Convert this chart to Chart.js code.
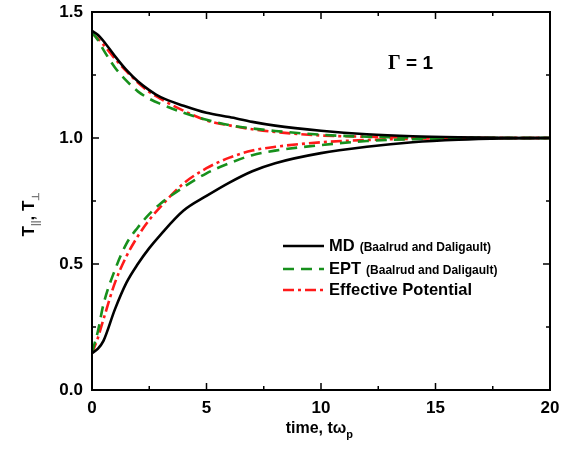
<!DOCTYPE html>
<html>
<head>
<meta charset="utf-8">
<script src="https://cdn.jsdelivr.net/npm/chart.js@4.4.1/dist/chart.umd.min.js"></script>
<style>
  body { margin: 0; background: #fff; }
  canvas { display: block; }
</style>
</head>
<body>
<canvas id="chart" width="570" height="455"></canvas>
<script>
// time grid (t * omega_p)
const times = [0, 0.25, 0.5, 1, 1.5, 2, 2.5, 3, 4, 5, 6, 7, 8, 10, 12, 14, 16, 18, 20];

// MD (Baalrud and Daligault)
const mdUpper = [1.425, 1.41, 1.385, 1.325, 1.27, 1.225, 1.19, 1.162, 1.128, 1.10, 1.083, 1.064, 1.049, 1.029, 1.015, 1.007, 1.003, 1.001, 1.0];
const mdLower = [0.146, 0.163, 0.195, 0.32, 0.425, 0.50, 0.563, 0.617, 0.712, 0.77, 0.823, 0.868, 0.90, 0.94, 0.965, 0.983, 0.993, 0.998, 1.0];

// EPT (Baalrud and Daligault)
const eptUpper = [1.42, 1.39, 1.35, 1.28, 1.228, 1.185, 1.156, 1.135, 1.10, 1.072, 1.051, 1.038, 1.028, 1.013, 1.005, 1.002, 1.001, 1.0, 1.0];
const eptLower = [0.15, 0.23, 0.34, 0.476, 0.58, 0.645, 0.698, 0.74, 0.805, 0.86, 0.90, 0.932, 0.95, 0.972, 0.988, 0.995, 0.998, 1.0, 1.0];

// Effective Potential
const effUpper = [1.415, 1.395, 1.37, 1.315, 1.265, 1.22, 1.183, 1.155, 1.108, 1.07, 1.05, 1.035, 1.024, 1.01, 1.005, 1.002, 1.001, 1.0, 1.0];
const effLower = [0.146, 0.205, 0.28, 0.425, 0.53, 0.61, 0.675, 0.728, 0.82, 0.88, 0.922, 0.95, 0.965, 0.983, 0.992, 0.997, 0.999, 1.0, 1.0];

const xTicks = [0, 5, 10, 15, 20];
const yTicks = [0, 0.5, 1.0, 1.5];

const FONT = "'Liberation Sans', Arial, sans-serif";
const BLACK = '#000000';
const GREEN = '#17901c';
const RED = '#ff1a1a';

function pts(ys) {
  return times.map((t, i) => ({ x: t, y: ys[i] }));
}

function line(label, ys, color, dash, showInLegend) {
  return {
    label: label,
    data: pts(ys),
    borderColor: color,
    borderWidth: 2.6,
    borderDash: dash,
    pointRadius: 0,
    fill: false,
    cubicInterpolationMode: 'monotone',
    legendEntry: showInLegend
  };
}

// frame with inward ticks on all four sides
const framePlugin = {
  id: 'frame',
  afterDatasetsDraw(chart) {
    const { ctx, chartArea: a, scales } = chart;
    const xs = scales.x, ys = scales.y;
    ctx.save();
    ctx.strokeStyle = BLACK;
    ctx.lineWidth = 2;
    ctx.strokeRect(a.left, a.top, a.right - a.left, a.bottom - a.top);
    ctx.lineWidth = 1.5;
    ctx.beginPath();
    for (let v = 0; v <= 20; v += 2.5) {
      const px = xs.getPixelForValue(v);
      const len = v % 5 === 0 ? 7 : 4;
      ctx.moveTo(px, a.bottom); ctx.lineTo(px, a.bottom - len);
      ctx.moveTo(px, a.top); ctx.lineTo(px, a.top + len);
    }
    for (let v = 0; v <= 1.5001; v += 0.25) {
      const py = ys.getPixelForValue(v);
      const len = Math.abs(v * 2 - Math.round(v * 2)) < 1e-6 ? 7 : 4;
      ctx.moveTo(a.left, py); ctx.lineTo(a.left + len, py);
      ctx.moveTo(a.right, py); ctx.lineTo(a.right - len, py);
    }
    ctx.stroke();
    ctx.restore();
  }
};

// legend, annotation and axis titles
const textPlugin = {
  id: 'texts',
  afterDraw(chart) {
    const { ctx } = chart;
    ctx.save();
    ctx.fillStyle = BLACK;
    ctx.textBaseline = 'middle';
    ctx.textAlign = 'left';

    // legend
    const entries = chart.data.datasets.filter(d => d.legendEntry);
    const rows = [246, 269, 290];
    const notes = ['(Baalrud and Daligault)', '(Baalrud and Daligault)', ''];
    entries.forEach((d, i) => {
      const y = rows[i];
      ctx.strokeStyle = d.borderColor;
      ctx.lineWidth = 2.6;
      ctx.setLineDash(d.borderDash || []);
      ctx.beginPath();
      ctx.moveTo(283, y);
      ctx.lineTo(324, y);
      ctx.stroke();
      ctx.setLineDash([]);
      ctx.font = 'bold 16.5px ' + FONT;
      ctx.fillText(d.label, 329, y);
      const w = ctx.measureText(d.label).width;
      if (notes[i]) {
        ctx.font = 'bold 12px ' + FONT;
        ctx.fillText(notes[i], 329 + w + 5, y + 1.5);
      }
    });

    // Gamma = 1
    ctx.font = 'bold 20px "Liberation Serif", "Times New Roman", serif';
    ctx.fillText('\u0393', 388, 64);
    const gw = ctx.measureText('\u0393').width;
    ctx.font = 'bold 19px ' + FONT;
    ctx.fillText(' = 1', 388 + gw, 64);

    // x title
    ctx.textBaseline = 'alphabetic';
    ctx.font = 'bold 16px ' + FONT;
    const xt = 'time, t\u03c9';
    const xw = ctx.measureText(xt).width;
    const x0 = 320 - (xw + 8) / 2;
    ctx.fillText(xt, x0, 433);
    ctx.font = 'bold 11px ' + FONT;
    ctx.fillText('p', x0 + xw, 438);

    // y title (rotated)
    ctx.translate(28, 214);
    ctx.rotate(-Math.PI / 2);
    const parts = [
      ['T', 'bold 17px ' + FONT, 0, BLACK],
      ['||', 'bold 10px ' + FONT, 5, '#777'],
      [', ', 'bold 17px ' + FONT, 0, BLACK],
      ['T', 'bold 17px ' + FONT, 0, BLACK],
      ['\u22a5', 'bold 10px ' + FONT, 5, '#777']
    ];
    let total = 0;
    parts.forEach(p => { ctx.font = p[1]; total += ctx.measureText(p[0]).width; });
    let cx = -total / 2;
    parts.forEach(p => {
      ctx.font = p[1];
      ctx.fillStyle = p[3];
      ctx.fillText(p[0], cx, 6 + p[2]);
      cx += ctx.measureText(p[0]).width;
    });
    ctx.restore();
  }
};

new Chart(document.getElementById('chart'), {
  type: 'line',
  data: {
    datasets: [
      line('MD', mdUpper, BLACK, [], true),
      line('MD', mdLower, BLACK, [], false),
      line('EPT', eptUpper, GREEN, [11, 7], true),
      line('EPT', eptLower, GREEN, [11, 7], false),
      line('Effective Potential', effUpper, RED, [11, 4, 3, 4], true),
      line('Effective Potential', effLower, RED, [11, 4, 3, 4], false)
    ]
  },
  options: {
    responsive: false,
    animation: false,
    layout: { padding: { top: 12, right: 20, left: 0, bottom: 0 } },
    plugins: { legend: { display: false }, tooltip: { enabled: false } },
    scales: {
      x: {
        type: 'linear',
        min: 0,
        max: 20,
        afterBuildTicks: s => { s.ticks = xTicks.map(v => ({ value: v })); },
        afterFit: s => { s.height = 65; s.paddingLeft = 0; s.paddingRight = 0; },
        ticks: {
          color: BLACK,
          padding: 8,
          maxRotation: 0,
          font: { family: FONT, size: 17, weight: 'bold' }
        },
        grid: { display: false, drawTicks: false },
        border: { display: false }
      },
      y: {
        type: 'linear',
        min: 0,
        max: 1.5,
        afterBuildTicks: s => { s.ticks = yTicks.map(v => ({ value: v })); },
        afterFit: s => { s.width = 92; s.paddingTop = 0; s.paddingBottom = 0; },
        ticks: {
          color: BLACK,
          padding: 9,
          callback: v => v.toFixed(1),
          font: { family: FONT, size: 17, weight: 'bold' }
        },
        grid: { display: false, drawTicks: false },
        border: { display: false }
      }
    }
  },
  plugins: [framePlugin, textPlugin]
});
</script>
</body>
</html>
